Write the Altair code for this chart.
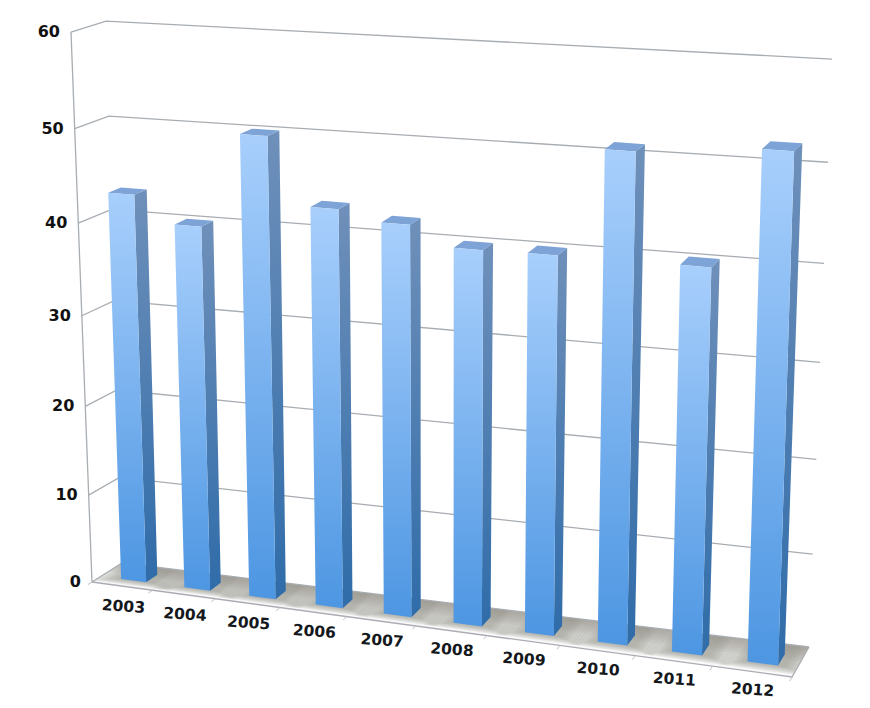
import altair as alt
import pandas as pd

categories = ["2003", "2004", "2005", "2006", "2007", "2008", "2009", "2010", "2011", "2012"]
values = [43.0, 40.2, 50.2, 43.2, 42.2, 40.2, 40.3, 51.3, 40.4, 52.4]
y_ticks = [0, 10, 20, 30, 40, 50, 60]

# projection frame of the 3-D box, in page pixels: (u, d, level)
FL0, FL1 = (92, 582), (71, 32)
BL0, BL1 = (122, 563), (106, 21)
FR0, FR1 = (792, 677), (810, 79)
BR0, BR1 = (809, 647), (832, 59)
D0, D1 = 0.3, 0.68


def level(v):
    return (8.6 * v + 0.0097 * v * v) / 551


def warp(s):
    return 0.85 * s + 0.15 * s * s


def bar_warp(s):
    k = 0.033 if s < 0.6 else 0.05
    return warp(s) + 0.009 + 0.005 - k * (s - 0.6) ** 2


def mix(a, b, t):
    return (a[0] + (b[0] - a[0]) * t, a[1] + (b[1] - a[1]) * t)


def proj(u, d, v):
    t = level(v)
    fl, bl = mix(FL0, FL1, t), mix(BL0, BL1, t)
    fr, br = mix(FR0, FR1, t), mix(BR0, BR1, t)
    return mix(mix(fl, fr, u), mix(bl, br, u), d)


def table(polys):
    rows = []
    for pid, pts in enumerate(polys):
        for o, (x, y) in enumerate(pts):
            rows.append({"pid": pid, "o": o, "x": x, "y": y})
    return pd.DataFrame(rows)


X = alt.X("x:Q", scale=alt.Scale(domain=[8, 862]), axis=None)
Y = alt.Y("y:Q", scale=alt.Scale(domain=[704, 8]), axis=None)


def grad(c0, c1):
    return alt.LinearGradient(
        gradient="linear", x1=0, x2=0, y1=0, y2=1,
        stops=[alt.GradientStop(color=c0, offset=0), alt.GradientStop(color=c1, offset=1)],
    )


def fill_layer(polys, fill, opacity=1.0):
    return alt.Chart(table(polys)).mark_line(
        fill=fill, strokeWidth=0, opacity=opacity, interpolate="linear", clip=False
    ).encode(x=X, y=Y, detail="pid:N", order="o:Q")


def line_layer(polys, color, width):
    return alt.Chart(table(polys)).mark_line(
        color=color, strokeWidth=width, interpolate="linear"
    ).encode(x=X, y=Y, detail="pid:N", order="o:Q")


def quad(u0, u1, d0, d1):
    return [proj(u0, d0, 0), proj(u1, d0, 0), proj(u1, d1, 0), proj(u0, d1, 0)]


boxes = []
for i in range(len(categories)):
    boxes.append((bar_warp((i + 0.3) / 10), bar_warp((i + 0.7) / 10)))

layers = []
# floor
layers.append(fill_layer([quad(0, 1, 0, 1)], "#fafafa"))
shade = "#8b867f"
# soft shadows: nested quads
band = [quad(0, 1, 1 - 0.08 * k, 1) for k in range(1, 7)]
layers.append(fill_layer(band, shade, 0.09))
for k in range(8):
    e = 0.0045 * k
    pol = [quad(max(0, u0 - 0.004 - e), min(1, u1 + 0.012 + e), max(0.06, D0 - 0.01 - 0.03 * k), 1) for u0, u1 in boxes]
    layers.append(fill_layer(pol, shade, 0.11))

# grid
grid = []
for v in y_ticks:
    grid.append([proj(0, 0, v), proj(0, 1, v), proj(1, 1, v)])
layers.append(line_layer(grid, "#a8adb2", 1.3))
layers.append(line_layer([[proj(0, 0, 0), proj(0, 0, 60)]], "#a8adb2", 1.3))
layers.append(line_layer([[proj(0, 0, 0), proj(1, 0, 0), proj(1, 1, 0)]], "#a9adb3", 1.3))
layers.append(line_layer([[proj(warp(k / 10), 0, 0), proj(warp(k / 10), -0.14, 0)] for k in range(0, 11)], "#c5bcc4", 1))

# bars
fronts, sides, tops = [], [], []
for (u0, u1), v in zip(boxes, values):
    fronts.append([proj(u0, D0, 0), proj(u1, D0, 0), proj(u1, D0, v), proj(u0, D0, v)])
    sides.append([proj(u1, D0, 0), proj(u1, D1, 0), proj(u1, D1, v), proj(u1, D0, v)])
    tops.append([proj(u0, D0, v), proj(u1, D0, v), proj(u1, D1, v), proj(u0, D1, v)])
layers.append(fill_layer(sides, grad("#6f90ba", "#2f6ca9")))
layers.append(fill_layer(tops, "#7da3d7"))
layers.append(fill_layer(fronts, grad("#a8cffc", "#4d96e2")))

# labels
cat_rows = []
for i, c in enumerate(categories):
    s = (i + 0.5) / 10
    x, y = proj(warp(s), 0, 0)
    cat_rows.append({"x": x + 1.5 - s, "y": y + 20.5 - 2.5 * s, "t": c})
layers.append(
    alt.Chart(pd.DataFrame(cat_rows)).mark_text(
        font="DejaVu Sans", fontWeight="bold", fontSize=15.5, color="#14181c", angle=4
    ).encode(x=X, y=Y, text="t:N")
)
tick_rows = []
for v in y_ticks:
    x, y = proj(0, 0, v)
    tick_rows.append({"x": x - 11, "y": y, "t": str(v)})
layers.append(
    alt.Chart(pd.DataFrame(tick_rows)).mark_text(
        font="DejaVu Sans", fontWeight="bold", fontSize=16, color="#111111", align="right", baseline="middle"
    ).encode(x=X, y=Y, text="t:N")
)

chart = alt.layer(*layers).properties(
    width=854, height=696,
    autosize=alt.AutoSizeParams(type="none"),
    padding=0,
).configure_view(stroke=None)

chart.save("out.html", embed_options={"renderer": "svg", "actions": False})
